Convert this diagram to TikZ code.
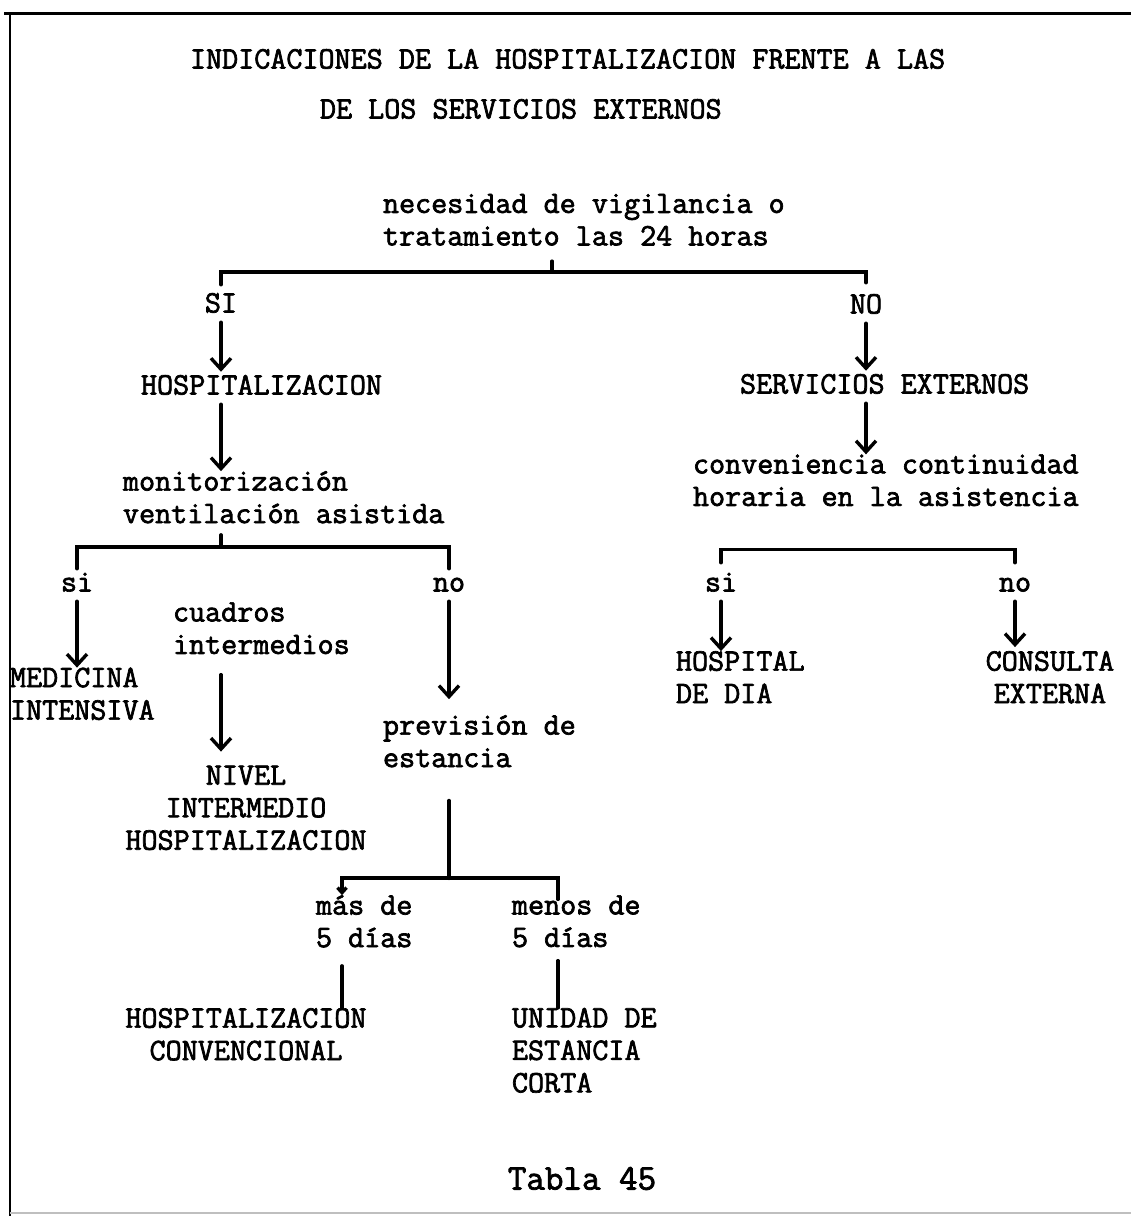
\documentclass[tikz,border=0pt]{standalone}
\usepackage{fontspec}
\usetikzlibrary{arrows.meta}
\newfontfamily\typew[FakeBold=2.2]{Latin Modern Mono}
\tikzset{
  txt/.style={inner sep=0pt, outer sep=0pt,
    font=\typew\fontsize{31.2}{32.5}\selectfont,
    execute at begin node=\strut, execute at end node=\strut},
  lft/.style={txt, anchor=west, align=left},
  ctr/.style={txt, anchor=center, align=center},
  line/.style={line width=3.4pt, line cap=round},
  arr/.style={line, -{Straight Barb[length=11pt,width=20pt]}},
}
\begin{document}
\begin{tikzpicture}[x=1pt,y=-1pt]
\useasboundingbox (0,0) rectangle (1131,1216);
% page frame
\draw[line width=3pt] (4,13) -- (1131,13);
\draw[line width=2.6pt] (10,13) -- (10,1216);
\draw[line width=1.2pt, black!25] (10,1213) -- (1131,1213);

% heading
\node[lft] (title1) at (190,62) {INDICACIONES DE LA HOSPITALIZACION FRENTE A LAS};
\node[lft] (title2) at (320,112) {DE LOS SERVICIOS EXTERNOS};

% first question
\node[lft] (q1) at (383,224.5) {necesidad de vigilancia o\\tratamiento las 24 horas};
\node[ctr] (si1) at (221,306) {SI};
\node[ctr] (no1) at (866,307) {NO};

% hospitalisation branch
\node[lft] (hosp) at (141,388) {HOSPITALIZACION};
\node[lft] (mon) at (123,502) {monitorización\\ventilación asistida};
\node[ctr] (si2) at (77,585) {si};
\node[ctr] (no2) at (449,585) {no};
\node[lft] (cuad) at (173,633) {cuadros\\intermedios};
\node[lft] (med) at (10,698.5) {MEDICINA\\INTENSIVA};
\node[ctr] (niv) at (246,812.5) {NIVEL\\INTERMEDIO\\HOSPITALIZACION};
\node[lft] (prev) at (383,746) {previsión de\\estancia};
\node[lft] (mas) at (316,926) {más de\\5 días};
\node[lft] (menos) at (512,926) {menos de\\5 días};
\node[ctr] (hconv) at (246,1039) {HOSPITALIZACION\\CONVENCIONAL};
\node[lft] (unidad) at (512,1055) {UNIDAD DE\\ESTANCIA\\CORTA};

% external services branch
\node[lft] (serv) at (740,387) {SERVICIOS EXTERNOS};
\node[lft] (conv) at (693,485) {conveniencia continuidad\\horaria en la asistencia};
\node[ctr] (si3) at (721,585) {si};
\node[ctr] (no3) at (1015,585) {no};
\node[lft] (hdia) at (676,682) {HOSPITAL\\DE DIA};
\node[ctr] (cons) at (1050,682) {CONSULTA\\EXTERNA};

\node[txt, font=\typew\fontsize{36}{38}\selectfont] (tabla) at (582,1182) {Tabla 45};

% split points of the brackets
\coordinate (b1) at (552,272);
\coordinate (b2) at (221,547);
\coordinate (b3) at (449,878);

% first split: SI / NO
\draw[line] ([yshift=-6pt]q1.south -| b1) -- (b1);
\draw[line] ([yshift=5pt]si1.north) |- (b1) -| ([yshift=8pt]no1.north);
\draw[arr] (si1.south) -- (si1.south |- hosp.north);
\draw[arr] (si1 |- hosp.south) -- (si1 |- mon.north);

% second split: si / no
\draw[line] ([yshift=-2pt]mon.south -| b2) -- (b2);
\draw[line] (si2.north) |- (b2) -| (no2.north);
\draw[arr] (si2.south) -- (si2.south |- med.north);
\draw[arr] (no2.south) -- ([yshift=16pt]no2.south |- prev.north);
\draw[arr, shorten <=11pt, shorten >=14pt] (si1 |- cuad.south) -- (si1 |- niv.north);

% length of stay
\draw[line, line width=4.2pt, shorten <=24pt] (prev.south -| b3) -- (b3);
\draw[line, {Straight Barb[length=5pt,width=9pt]}-] ([xshift=26pt]mas.north west) |- (b3)
  -| ([xshift=46pt,yshift=-4pt]menos.north west);
\draw[line, shorten <=9pt] ([xshift=26pt]mas.south west) -- ([xshift=26pt]mas.south west |- hconv.north);
\draw[line, shorten <=4pt] ([xshift=46pt]menos.south west) -- ([xshift=46pt]menos.south west |- unidad.north);

% external services
\draw[arr] (no1.south) -- (no1.south |- serv.north);
\draw[arr] (no1 |- serv.south) -- (no1 |- conv.north);
\draw[line] ([yshift=6pt]si3.north) -- ++(0,-13) -| ([yshift=6pt]no3.north);
\draw[arr] (si3.south) -- (si3.south |- hdia.north);
\draw[arr] (no3.south) -- ([yshift=4pt]no3.south |- cons.north);
\end{tikzpicture}
\end{document}
